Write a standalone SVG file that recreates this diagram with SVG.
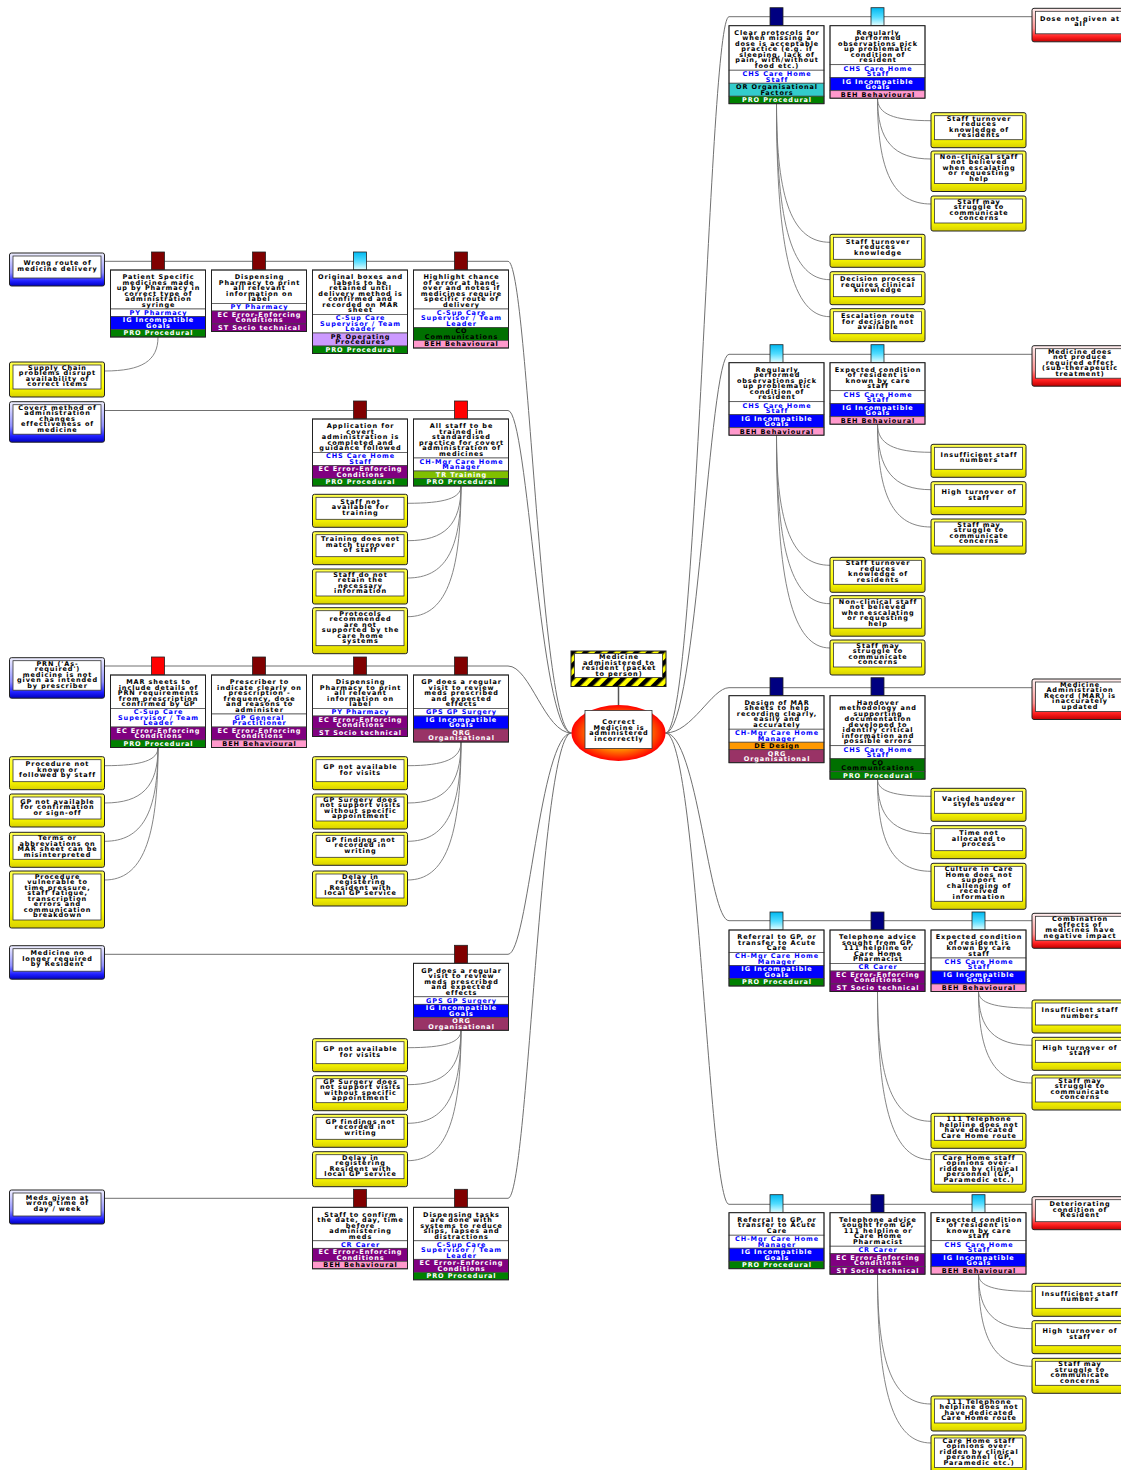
<svg xmlns="http://www.w3.org/2000/svg" width="1121" height="1470" viewBox="0 0 1121 1470">
<defs>
<linearGradient id="gY" x1="0" y1="0" x2="0" y2="1"><stop offset="0" stop-color="#ffff50"/><stop offset="0.7" stop-color="#ffff00"/><stop offset="1" stop-color="#d8d000"/></linearGradient>
<linearGradient id="gB" x1="0" y1="0" x2="0" y2="1"><stop offset="0" stop-color="#f0f0ff"/><stop offset="0.6" stop-color="#9090ff"/><stop offset="0.85" stop-color="#2020ff"/><stop offset="1" stop-color="#0000c0"/></linearGradient>
<linearGradient id="gR" x1="0" y1="0" x2="0" y2="1"><stop offset="0" stop-color="#fff0f0"/><stop offset="0.6" stop-color="#ff9090"/><stop offset="0.85" stop-color="#ff2020"/><stop offset="1" stop-color="#c00000"/></linearGradient>
<linearGradient id="gT" x1="0" y1="0" x2="0" y2="1"><stop offset="0" stop-color="#00b8f0"/><stop offset="0.5" stop-color="#50dcff"/><stop offset="1" stop-color="#e8ffff"/></linearGradient>
<radialGradient id="gE" cx="0.5" cy="0.5" r="0.5"><stop offset="0" stop-color="#ffa000"/><stop offset="0.6" stop-color="#ff8800"/><stop offset="1" stop-color="#ff0000"/></radialGradient>
<pattern id="hz" width="9" height="9" patternUnits="userSpaceOnUse" patternTransform="rotate(45)"><rect width="9" height="9" fill="#ffff00"/><rect width="4.5" height="9" fill="#000"/></pattern>
</defs>
<style>
.ln{fill:none;stroke:#707070;stroke-width:1}
.el{fill:none;stroke:#777;stroke-width:0.9}
.t{font-family:"DejaVu Sans","Liberation Sans",Verdana,sans-serif;font-weight:bold;font-size:6.5px;letter-spacing:0.9px;text-anchor:middle;fill:#000}
.tb{fill:#0000ff}
.tw{fill:#fff}
.s{stroke:#444;stroke-width:0.7}
.d,.r{fill:#fff}
.ig{fill:#0000ff}
.pro{fill:#008000}
.ec,.st{fill:#800080}
.pr{fill:#cc99ff}
.co{fill:#007000}
.beh{fill:#ff99cc}
.tr{fill:#80c000}
.or{fill:#33cccc}
.de{fill:#ff9900}
.org{fill:#993366}
.fr{fill:none;stroke:#222;stroke-width:1}
.tab{stroke:#222;stroke-width:0.8}
.tdr{fill:#800000}.trd{fill:#ff0000}.tnv{fill:#000080}.tlb{fill:url(#gT)}
.ey{fill:url(#gY);stroke:#222;stroke-width:1}
.eb{fill:url(#gB);stroke:#222;stroke-width:1}
.er{fill:url(#gR);stroke:#222;stroke-width:1}
.in{fill:#fff;stroke:#333;stroke-width:0.8}
</style>
<rect width="1121" height="1470" fill="#fff"/>

<g id="connectors">
<path class="ln" d="M104.5,261.3H508C528,261.3 540,733 571.5,733"/>
<path class="ln" d="M104.5,410.5H508C528,410.5 540,733 571.5,733"/>
<path class="ln" d="M104.5,666H508C530,666 545,733 571.5,733"/>
<path class="ln" d="M104.5,954.3H508C528,954.3 540,733 571.5,733"/>
<path class="ln" d="M104.5,1198.3H508C528,1198.3 540,733 571.5,733"/>
<path class="ln" d="M1032,16.7H729C709,16.7 697,733 665.5,733"/>
<path class="ln" d="M1032,354.3H729C709,354.3 697,733 665.5,733"/>
<path class="ln" d="M1032,687.7H729C712,687.7 692,733 665.5,733"/>
<path class="ln" d="M1032,920.7H729C709,920.7 697,733 665.5,733"/>
<path class="ln" d="M1032,1204.3H729C709,1204.3 697,733 665.5,733"/>
<path d="M618.5,686.5V705" fill="none" stroke="#555" stroke-width="1.5"/>
<path class="el" d="M158,337C158,360.8 142,371 104.5,371"/>
<path class="el" d="M461,486C461,498.1 445,503.3 407.5,503.3"/>
<path class="el" d="M461,486C461,524.3 445,540.7 407.5,540.7"/>
<path class="el" d="M461,486C461,550.4 445,578 407.5,578"/>
<path class="el" d="M461,486C461,577.5 445,616.7 407.5,616.7"/>
<path class="el" d="M158,747.5C158,760.2 142,765.7 104.5,765.7"/>
<path class="el" d="M158,747.5C158,786.4 142,803 104.5,803"/>
<path class="el" d="M158,747.5C158,813.2 142,841.3 104.5,841.3"/>
<path class="el" d="M158,747.5C158,840.3 142,880 104.5,880"/>
<path class="el" d="M461,742C461,758.6 445,765.7 407.5,765.7"/>
<path class="el" d="M461,742C461,784.7 445,803 407.5,803"/>
<path class="el" d="M461,742C461,811.5 445,841.3 407.5,841.3"/>
<path class="el" d="M461,742C461,838.6 445,880 407.5,880"/>
<path class="el" d="M461,1030.3C461,1042.5 445,1047.7 407.5,1047.7"/>
<path class="el" d="M461,1030.3C461,1068.4 445,1084.7 407.5,1084.7"/>
<path class="el" d="M461,1030.3C461,1095.4 445,1123.3 407.5,1123.3"/>
<path class="el" d="M461,1030.3C461,1121.6 445,1160.7 407.5,1160.7"/>
<path class="el" d="M776.5,103.7C776.5,200.7 792.5,242.3 830,242.3"/>
<path class="el" d="M776.5,103.7C776.5,226.9 792.5,279.7 830,279.7"/>
<path class="el" d="M776.5,103.7C776.5,252.8 792.5,316.7 830,316.7"/>
<path class="el" d="M877.5,98.2C877.5,114 893.5,120.7 931,120.7"/>
<path class="el" d="M877.5,98.2C877.5,140.8 893.5,159 931,159"/>
<path class="el" d="M877.5,98.2C877.5,172.3 893.5,204 931,204"/>
<path class="el" d="M776.5,435.2C776.5,526.3 792.5,565.3 830,565.3"/>
<path class="el" d="M776.5,435.2C776.5,553.2 792.5,603.7 830,603.7"/>
<path class="el" d="M776.5,435.2C776.5,584.2 792.5,648 830,648"/>
<path class="el" d="M877.5,424.2C877.5,443.9 893.5,452.3 931,452.3"/>
<path class="el" d="M877.5,424.2C877.5,470 893.5,489.7 931,489.7"/>
<path class="el" d="M877.5,424.2C877.5,496.2 893.5,527 931,527"/>
<path class="el" d="M877.5,779.2C877.5,791.2 893.5,796.3 931,796.3"/>
<path class="el" d="M877.5,779.2C877.5,817.4 893.5,833.7 931,833.7"/>
<path class="el" d="M877.5,779.2C877.5,843.7 893.5,871.3 931,871.3"/>
<path class="el" d="M877.5,991.5C877.5,1082.4 893.5,1121.3 931,1121.3"/>
<path class="el" d="M877.5,991.5C877.5,1109.2 893.5,1159.7 931,1159.7"/>
<path class="el" d="M978.5,991.5C978.5,1003 994.5,1008 1032,1008"/>
<path class="el" d="M978.5,991.5C978.5,1029.2 994.5,1045.3 1032,1045.3"/>
<path class="el" d="M978.5,991.5C978.5,1055.6 994.5,1083 1032,1083"/>
<path class="el" d="M877.5,1274.2C877.5,1365.1 893.5,1404 931,1404"/>
<path class="el" d="M877.5,1274.2C877.5,1392.4 893.5,1443 931,1443"/>
<path class="el" d="M978.5,1274.2C978.5,1286.2 994.5,1291.3 1032,1291.3"/>
<path class="el" d="M978.5,1274.2C978.5,1312.4 994.5,1328.7 1032,1328.7"/>
<path class="el" d="M978.5,1274.2C978.5,1338.7 994.5,1366.3 1032,1366.3"/>
</g>

<g id="hazard">
<rect x="571" y="651" width="95" height="35.5" fill="url(#hz)" stroke="#222" stroke-width="1"/>
<rect class="in" x="574.5" y="653.5" width="88" height="24"/>
<text class="t" y="659.4"><tspan x="619">Medicine</tspan><tspan x="619" dy="5.5">administered to</tspan><tspan x="619" dy="5.5">resident (packet</tspan><tspan x="619" dy="5.5">to person)</tspan></text>
</g>

<g id="top-event">
<ellipse cx="618.5" cy="733" rx="47" ry="28" fill="url(#gE)"/>
<rect class="in" x="585" y="710.5" width="67" height="38"/>
<text class="t" y="724"><tspan x="619">Correct</tspan><tspan x="619" dy="5.5">Medicine is</tspan><tspan x="619" dy="5.5">administered</tspan><tspan x="619" dy="5.5">incorrectly</tspan></text>
</g>

<!-- Threats -->
<g id="threat-wrong-route" transform="translate(9.5,253)">
<rect class="eb" width="95" height="33" rx="2"/><rect class="in" x="3.5" y="3" width="88" height="22"/>
<text class="t" y="12.35"><tspan x="48">Wrong route of</tspan><tspan x="48" dy="5.5">medicine delivery</tspan></text>
</g>
<g id="threat-covert" transform="translate(9.5,401.7)">
<rect class="eb" width="95" height="40.5" rx="2"/><rect class="in" x="3.5" y="3" width="88" height="29.5"/>
<text class="t" y="7.85"><tspan x="48">Covert method of</tspan><tspan x="48" dy="5.5">administration</tspan><tspan x="48" dy="5.5">changes</tspan><tspan x="48" dy="5.5">effectiveness of</tspan><tspan x="48" dy="5.5">medicine</tspan></text>
</g>
<g id="threat-prn" transform="translate(9.5,657.7)">
<rect class="eb" width="95" height="40.5" rx="2"/><rect class="in" x="3.5" y="3" width="88" height="29.5"/>
<text class="t" y="7.85"><tspan x="48">PRN ('As-</tspan><tspan x="48" dy="5.5">required')</tspan><tspan x="48" dy="5.5">medicine is not</tspan><tspan x="48" dy="5.5">given as intended</tspan><tspan x="48" dy="5.5">by prescriber</tspan></text>
</g>
<g id="threat-no-longer" transform="translate(9.5,945.7)">
<rect class="eb" width="95" height="33.5" rx="2"/><rect class="in" x="3.5" y="3" width="88" height="22.5"/>
<text class="t" y="9.6"><tspan x="48">Medicine no</tspan><tspan x="48" dy="5.5">longer required</tspan><tspan x="48" dy="5.5">by Resident</tspan></text>
</g>
<g id="threat-wrong-time" transform="translate(9.5,1190)">
<rect class="eb" width="95" height="34" rx="2"/><rect class="in" x="3.5" y="3" width="88" height="23"/>
<text class="t" y="9.6"><tspan x="48">Meds given at</tspan><tspan x="48" dy="5.5">wrong time of</tspan><tspan x="48" dy="5.5">day / week</tspan></text>
</g>

<!-- Consequences -->
<g id="cons-dose-not-given" transform="translate(1032,8.3)">
<rect class="er" width="95" height="33.5" rx="2"/><rect class="in" x="3.5" y="3" width="88" height="22.5"/>
<text class="t" y="12.35"><tspan x="48">Dose not given at</tspan><tspan x="48" dy="5.5">all</tspan></text>
</g>
<g id="cons-sub-therapeutic" transform="translate(1032,345.7)">
<rect class="er" width="95" height="40.5" rx="2"/><rect class="in" x="3.5" y="3" width="88" height="29.5"/>
<text class="t" y="7.85"><tspan x="48">Medicine does</tspan><tspan x="48" dy="5.5">not produce</tspan><tspan x="48" dy="5.5">required effect</tspan><tspan x="48" dy="5.5">(sub-therapeutic</tspan><tspan x="48" dy="5.5">treatment)</tspan></text>
</g>
<g id="cons-mar" transform="translate(1032,679)">
<rect class="er" width="95" height="40.5" rx="2"/><rect class="in" x="3.5" y="3" width="88" height="29.5"/>
<text class="t" y="7.85"><tspan x="48">Medicine</tspan><tspan x="48" dy="5.5">Administration</tspan><tspan x="48" dy="5.5">Record (MAR) is</tspan><tspan x="48" dy="5.5">inaccurately</tspan><tspan x="48" dy="5.5">updated</tspan></text>
</g>
<g id="cons-combination" transform="translate(1032,913.3)">
<rect class="er" width="95" height="35" rx="2"/><rect class="in" x="3.5" y="3" width="88" height="24"/>
<text class="t" y="7.85"><tspan x="48">Combination</tspan><tspan x="48" dy="5.5">effects of</tspan><tspan x="48" dy="5.5">medicines have</tspan><tspan x="48" dy="5.5">negative impact</tspan></text>
</g>
<g id="cons-deteriorating" transform="translate(1032,1196.7)">
<rect class="er" width="95" height="33" rx="2"/><rect class="in" x="3.5" y="3" width="88" height="22"/>
<text class="t" y="9.6"><tspan x="48">Deteriorating</tspan><tspan x="48" dy="5.5">condition of</tspan><tspan x="48" dy="5.5">Resident</tspan></text>
</g>

<!-- Left barriers -->
<g id="bar-l1a" transform="translate(110.5,270)">
<rect class="tab tdr" x="41" y="-18" width="13" height="18"/>
<rect class="s d" width="95" height="39"/><rect class="s r" y="39" width="95" height="7.5"/><rect class="s ig" y="46.5" width="95" height="13"/><rect class="s pro" y="59.5" width="95" height="7.5"/><rect class="fr" width="95" height="67"/>
<text class="t" y="9.25"><tspan x="48">Patient Specific</tspan><tspan x="48" dy="5.5">medicines made</tspan><tspan x="48" dy="5.5">up by Pharmacy in</tspan><tspan x="48" dy="5.5">correct type of</tspan><tspan x="48" dy="5.5">administration</tspan><tspan x="48" dy="5.5">syringe</tspan></text>
<text class="t tb" x="48" y="44.95">PY Pharmacy</text>
<text class="t tw" y="52.45"><tspan x="48">IG Incompatible</tspan><tspan x="48" dy="5.5">Goals</tspan></text>
<text class="t tw" x="48" y="65.45">PRO Procedural</text>
</g>
<g id="bar-l1b" transform="translate(211.5,270)">
<rect class="tab tdr" x="41" y="-18" width="13" height="18"/>
<rect class="s d" width="95" height="33.5"/><rect class="s r" y="33.5" width="95" height="7.5"/><rect class="s ec" y="41" width="95" height="13"/><rect class="s st" y="54" width="95" height="7.5"/><rect class="fr" width="95" height="61.5"/>
<text class="t" y="9.25"><tspan x="48">Dispensing</tspan><tspan x="48" dy="5.5">Pharmacy to print</tspan><tspan x="48" dy="5.5">all relevant</tspan><tspan x="48" dy="5.5">information on</tspan><tspan x="48" dy="5.5">label</tspan></text>
<text class="t tb" x="48" y="39.45">PY Pharmacy</text>
<text class="t tw" y="46.95"><tspan x="48">EC Error-Enforcing</tspan><tspan x="48" dy="5.5">Conditions</tspan></text>
<text class="t tw" x="48" y="59.95">ST Socio technical</text>
</g>
<g id="bar-l1c" transform="translate(312.5,270)">
<rect class="tab tlb" x="41" y="-18" width="13" height="18"/>
<rect class="s d" width="95" height="44.5"/><rect class="s r" y="44.5" width="95" height="18.5"/><rect class="s pr" y="63" width="95" height="13"/><rect class="s pro" y="76" width="95" height="7.5"/><rect class="fr" width="95" height="83.5"/>
<text class="t" y="9.25"><tspan x="48">Original boxes and</tspan><tspan x="48" dy="5.5">labels to be</tspan><tspan x="48" dy="5.5">retained until</tspan><tspan x="48" dy="5.5">delivery method is</tspan><tspan x="48" dy="5.5">confirmed and</tspan><tspan x="48" dy="5.5">recorded on MAR</tspan><tspan x="48" dy="5.5">sheet</tspan></text>
<text class="t tb" y="50.45"><tspan x="48">C-Sup Care</tspan><tspan x="48" dy="5.5">Supervisor / Team</tspan><tspan x="48" dy="5.5">Leader</tspan></text>
<text class="t" y="68.95"><tspan x="48">PR Operating</tspan><tspan x="48" dy="5.5">Procedures</tspan></text>
<text class="t tw" x="48" y="81.95">PRO Procedural</text>
</g>
<g id="bar-l1d" transform="translate(413.5,270)">
<rect class="tab tdr" x="41" y="-18" width="13" height="18"/>
<rect class="s d" width="95" height="39"/><rect class="s r" y="39" width="95" height="18.5"/><rect class="s co" y="57.5" width="95" height="13"/><rect class="s beh" y="70.5" width="95" height="7.5"/><rect class="fr" width="95" height="78"/>
<text class="t" y="9.25"><tspan x="48">Highlight chance</tspan><tspan x="48" dy="5.5">of error at hand-</tspan><tspan x="48" dy="5.5">over and notes if</tspan><tspan x="48" dy="5.5">medicines require</tspan><tspan x="48" dy="5.5">specific route of</tspan><tspan x="48" dy="5.5">delivery</tspan></text>
<text class="t tb" y="44.95"><tspan x="48">C-Sup Care</tspan><tspan x="48" dy="5.5">Supervisor / Team</tspan><tspan x="48" dy="5.5">Leader</tspan></text>
<text class="t" y="63.45"><tspan x="48">CO</tspan><tspan x="48" dy="5.5">Communications</tspan></text>
<text class="t" x="48" y="76.45">BEH Behavioural</text>
</g>
<g id="bar-l2a" transform="translate(312.5,419)">
<rect class="tab tdr" x="41" y="-18" width="13" height="18"/>
<rect class="s d" width="95" height="33.5"/><rect class="s r" y="33.5" width="95" height="13"/><rect class="s ec" y="46.5" width="95" height="13"/><rect class="s pro" y="59.5" width="95" height="7.5"/><rect class="fr" width="95" height="67"/>
<text class="t" y="9.25"><tspan x="48">Application for</tspan><tspan x="48" dy="5.5">covert</tspan><tspan x="48" dy="5.5">administration is</tspan><tspan x="48" dy="5.5">completed and</tspan><tspan x="48" dy="5.5">guidance followed</tspan></text>
<text class="t tb" y="39.45"><tspan x="48">CHS Care Home</tspan><tspan x="48" dy="5.5">Staff</tspan></text>
<text class="t tw" y="52.45"><tspan x="48">EC Error-Enforcing</tspan><tspan x="48" dy="5.5">Conditions</tspan></text>
<text class="t tw" x="48" y="65.45">PRO Procedural</text>
</g>
<g id="bar-l2b" transform="translate(413.5,419)">
<rect class="tab trd" x="41" y="-18" width="13" height="18"/>
<rect class="s d" width="95" height="39"/><rect class="s r" y="39" width="95" height="13"/><rect class="s tr" y="52" width="95" height="7.5"/><rect class="s pro" y="59.5" width="95" height="7.5"/><rect class="fr" width="95" height="67"/>
<text class="t" y="9.25"><tspan x="48">All staff to be</tspan><tspan x="48" dy="5.5">trained in</tspan><tspan x="48" dy="5.5">standardised</tspan><tspan x="48" dy="5.5">practice for covert</tspan><tspan x="48" dy="5.5">administration of</tspan><tspan x="48" dy="5.5">medicines</tspan></text>
<text class="t tb" y="44.95"><tspan x="48">CH-Mgr Care Home</tspan><tspan x="48" dy="5.5">Manager</tspan></text>
<text class="t tw" x="48" y="57.95">TR Training</text>
<text class="t tw" x="48" y="65.45">PRO Procedural</text>
</g>
<g id="bar-l3a" transform="translate(110.5,675)">
<rect class="tab trd" x="41" y="-18" width="13" height="18"/>
<rect class="s d" width="95" height="33.5"/><rect class="s r" y="33.5" width="95" height="18.5"/><rect class="s ec" y="52" width="95" height="13"/><rect class="s pro" y="65" width="95" height="7.5"/><rect class="fr" width="95" height="72.5"/>
<text class="t" y="9.25"><tspan x="48">MAR sheets to</tspan><tspan x="48" dy="5.5">include details of</tspan><tspan x="48" dy="5.5">PRN requirements</tspan><tspan x="48" dy="5.5">from prescription</tspan><tspan x="48" dy="5.5">confirmed by GP</tspan></text>
<text class="t tb" y="39.45"><tspan x="48">C-Sup Care</tspan><tspan x="48" dy="5.5">Supervisor / Team</tspan><tspan x="48" dy="5.5">Leader</tspan></text>
<text class="t tw" y="57.95"><tspan x="48">EC Error-Enforcing</tspan><tspan x="48" dy="5.5">Conditions</tspan></text>
<text class="t tw" x="48" y="70.95">PRO Procedural</text>
</g>
<g id="bar-l3b" transform="translate(211.5,675)">
<rect class="tab tdr" x="41" y="-18" width="13" height="18"/>
<rect class="s d" width="95" height="39"/><rect class="s r" y="39" width="95" height="13"/><rect class="s ec" y="52" width="95" height="13"/><rect class="s beh" y="65" width="95" height="7.5"/><rect class="fr" width="95" height="72.5"/>
<text class="t" y="9.25"><tspan x="48">Prescriber to</tspan><tspan x="48" dy="5.5">indicate clearly on</tspan><tspan x="48" dy="5.5">prescription -</tspan><tspan x="48" dy="5.5">frequency, dose</tspan><tspan x="48" dy="5.5">and reasons to</tspan><tspan x="48" dy="5.5">administer</tspan></text>
<text class="t tb" y="44.95"><tspan x="48">GP General</tspan><tspan x="48" dy="5.5">Practitioner</tspan></text>
<text class="t tw" y="57.95"><tspan x="48">EC Error-Enforcing</tspan><tspan x="48" dy="5.5">Conditions</tspan></text>
<text class="t" x="48" y="70.95">BEH Behavioural</text>
</g>
<g id="bar-l3c" transform="translate(312.5,675)">
<rect class="tab tdr" x="41" y="-18" width="13" height="18"/>
<rect class="s d" width="95" height="33.5"/><rect class="s r" y="33.5" width="95" height="7.5"/><rect class="s ec" y="41" width="95" height="13"/><rect class="s st" y="54" width="95" height="7.5"/><rect class="fr" width="95" height="61.5"/>
<text class="t" y="9.25"><tspan x="48">Dispensing</tspan><tspan x="48" dy="5.5">Pharmacy to print</tspan><tspan x="48" dy="5.5">all relevant</tspan><tspan x="48" dy="5.5">information on</tspan><tspan x="48" dy="5.5">label</tspan></text>
<text class="t tb" x="48" y="39.45">PY Pharmacy</text>
<text class="t tw" y="46.95"><tspan x="48">EC Error-Enforcing</tspan><tspan x="48" dy="5.5">Conditions</tspan></text>
<text class="t tw" x="48" y="59.95">ST Socio technical</text>
</g>
<g id="bar-l3d" transform="translate(413.5,675)">
<rect class="tab tdr" x="41" y="-18" width="13" height="18"/>
<rect class="s d" width="95" height="33.5"/><rect class="s r" y="33.5" width="95" height="7.5"/><rect class="s ig" y="41" width="95" height="13"/><rect class="s org" y="54" width="95" height="13"/><rect class="fr" width="95" height="67"/>
<text class="t" y="9.25"><tspan x="48">GP does a regular</tspan><tspan x="48" dy="5.5">visit to review</tspan><tspan x="48" dy="5.5">meds prescribed</tspan><tspan x="48" dy="5.5">and expected</tspan><tspan x="48" dy="5.5">effects</tspan></text>
<text class="t tb" x="48" y="39.45">GPS GP Surgery</text>
<text class="t tw" y="46.95"><tspan x="48">IG Incompatible</tspan><tspan x="48" dy="5.5">Goals</tspan></text>
<text class="t tw" y="59.95"><tspan x="48">ORG</tspan><tspan x="48" dy="5.5">Organisational</tspan></text>
</g>
<g id="bar-l4" transform="translate(413.5,963.3)">
<rect class="tab tdr" x="41" y="-18" width="13" height="18"/>
<rect class="s d" width="95" height="33.5"/><rect class="s r" y="33.5" width="95" height="7.5"/><rect class="s ig" y="41" width="95" height="13"/><rect class="s org" y="54" width="95" height="13"/><rect class="fr" width="95" height="67"/>
<text class="t" y="9.25"><tspan x="48">GP does a regular</tspan><tspan x="48" dy="5.5">visit to review</tspan><tspan x="48" dy="5.5">meds prescribed</tspan><tspan x="48" dy="5.5">and expected</tspan><tspan x="48" dy="5.5">effects</tspan></text>
<text class="t tb" x="48" y="39.45">GPS GP Surgery</text>
<text class="t tw" y="46.95"><tspan x="48">IG Incompatible</tspan><tspan x="48" dy="5.5">Goals</tspan></text>
<text class="t tw" y="59.95"><tspan x="48">ORG</tspan><tspan x="48" dy="5.5">Organisational</tspan></text>
</g>
<g id="bar-l5a" transform="translate(312.5,1207.3)">
<rect class="tab tdr" x="41" y="-18" width="13" height="18"/>
<rect class="s d" width="95" height="33.5"/><rect class="s r" y="33.5" width="95" height="7.5"/><rect class="s ec" y="41" width="95" height="13"/><rect class="s beh" y="54" width="95" height="7.5"/><rect class="fr" width="95" height="61.5"/>
<text class="t" y="9.25"><tspan x="48">Staff to confirm</tspan><tspan x="48" dy="5.5">the date, day, time</tspan><tspan x="48" dy="5.5">before</tspan><tspan x="48" dy="5.5">administering</tspan><tspan x="48" dy="5.5">meds</tspan></text>
<text class="t tb" x="48" y="39.45">CR Carer</text>
<text class="t tw" y="46.95"><tspan x="48">EC Error-Enforcing</tspan><tspan x="48" dy="5.5">Conditions</tspan></text>
<text class="t" x="48" y="59.95">BEH Behavioural</text>
</g>
<g id="bar-l5b" transform="translate(413.5,1207.3)">
<rect class="tab tdr" x="41" y="-18" width="13" height="18"/>
<rect class="s d" width="95" height="33.5"/><rect class="s r" y="33.5" width="95" height="18.5"/><rect class="s ec" y="52" width="95" height="13"/><rect class="s pro" y="65" width="95" height="7.5"/><rect class="fr" width="95" height="72.5"/>
<text class="t" y="9.25"><tspan x="48">Dispensing tasks</tspan><tspan x="48" dy="5.5">are done with</tspan><tspan x="48" dy="5.5">systems to reduce</tspan><tspan x="48" dy="5.5">slips, lapses and</tspan><tspan x="48" dy="5.5">distractions</tspan></text>
<text class="t tb" y="39.45"><tspan x="48">C-Sup Care</tspan><tspan x="48" dy="5.5">Supervisor / Team</tspan><tspan x="48" dy="5.5">Leader</tspan></text>
<text class="t tw" y="57.95"><tspan x="48">EC Error-Enforcing</tspan><tspan x="48" dy="5.5">Conditions</tspan></text>
<text class="t tw" x="48" y="70.95">PRO Procedural</text>
</g>

<!-- Right barriers -->
<g id="bar-r1a" transform="translate(729,25.7)">
<rect class="tab tnv" x="41" y="-18" width="13" height="18"/>
<rect class="s d" width="95" height="44.5"/><rect class="s r" y="44.5" width="95" height="13"/><rect class="s or" y="57.5" width="95" height="13"/><rect class="s pro" y="70.5" width="95" height="7.5"/><rect class="fr" width="95" height="78"/>
<text class="t" y="9.25"><tspan x="48">Clear protocols for</tspan><tspan x="48" dy="5.5">when missing a</tspan><tspan x="48" dy="5.5">dose is acceptable</tspan><tspan x="48" dy="5.5">practice (e.g. if</tspan><tspan x="48" dy="5.5">sleeping, lack of</tspan><tspan x="48" dy="5.5">pain, with/without</tspan><tspan x="48" dy="5.5">food etc.)</tspan></text>
<text class="t tb" y="50.45"><tspan x="48">CHS Care Home</tspan><tspan x="48" dy="5.5">Staff</tspan></text>
<text class="t" y="63.45"><tspan x="48">OR Organisational</tspan><tspan x="48" dy="5.5">Factors</tspan></text>
<text class="t tw" x="48" y="76.45">PRO Procedural</text>
</g>
<g id="bar-r1b" transform="translate(830,25.7)">
<rect class="tab tlb" x="41" y="-18" width="13" height="18"/>
<rect class="s d" width="95" height="39"/><rect class="s r" y="39" width="95" height="13"/><rect class="s ig" y="52" width="95" height="13"/><rect class="s beh" y="65" width="95" height="7.5"/><rect class="fr" width="95" height="72.5"/>
<text class="t" y="9.25"><tspan x="48">Regularly</tspan><tspan x="48" dy="5.5">performed</tspan><tspan x="48" dy="5.5">observations pick</tspan><tspan x="48" dy="5.5">up problematic</tspan><tspan x="48" dy="5.5">condition of</tspan><tspan x="48" dy="5.5">resident</tspan></text>
<text class="t tb" y="44.95"><tspan x="48">CHS Care Home</tspan><tspan x="48" dy="5.5">Staff</tspan></text>
<text class="t tw" y="57.95"><tspan x="48">IG Incompatible</tspan><tspan x="48" dy="5.5">Goals</tspan></text>
<text class="t" x="48" y="70.95">BEH Behavioural</text>
</g>
<g id="bar-r2a" transform="translate(729,362.7)">
<rect class="tab tlb" x="41" y="-18" width="13" height="18"/>
<rect class="s d" width="95" height="39"/><rect class="s r" y="39" width="95" height="13"/><rect class="s ig" y="52" width="95" height="13"/><rect class="s beh" y="65" width="95" height="7.5"/><rect class="fr" width="95" height="72.5"/>
<text class="t" y="9.25"><tspan x="48">Regularly</tspan><tspan x="48" dy="5.5">performed</tspan><tspan x="48" dy="5.5">observations pick</tspan><tspan x="48" dy="5.5">up problematic</tspan><tspan x="48" dy="5.5">condition of</tspan><tspan x="48" dy="5.5">resident</tspan></text>
<text class="t tb" y="44.95"><tspan x="48">CHS Care Home</tspan><tspan x="48" dy="5.5">Staff</tspan></text>
<text class="t tw" y="57.95"><tspan x="48">IG Incompatible</tspan><tspan x="48" dy="5.5">Goals</tspan></text>
<text class="t" x="48" y="70.95">BEH Behavioural</text>
</g>
<g id="bar-r2b" transform="translate(830,362.7)">
<rect class="tab tlb" x="41" y="-18" width="13" height="18"/>
<rect class="s d" width="95" height="28"/><rect class="s r" y="28" width="95" height="13"/><rect class="s ig" y="41" width="95" height="13"/><rect class="s beh" y="54" width="95" height="7.5"/><rect class="fr" width="95" height="61.5"/>
<text class="t" y="9.25"><tspan x="48">Expected condition</tspan><tspan x="48" dy="5.5">of resident is</tspan><tspan x="48" dy="5.5">known by care</tspan><tspan x="48" dy="5.5">staff</tspan></text>
<text class="t tb" y="33.95"><tspan x="48">CHS Care Home</tspan><tspan x="48" dy="5.5">Staff</tspan></text>
<text class="t tw" y="46.95"><tspan x="48">IG Incompatible</tspan><tspan x="48" dy="5.5">Goals</tspan></text>
<text class="t" x="48" y="59.95">BEH Behavioural</text>
</g>
<g id="bar-r3a" transform="translate(729,695.7)">
<rect class="tab tnv" x="41" y="-18" width="13" height="18"/>
<rect class="s d" width="95" height="33.5"/><rect class="s r" y="33.5" width="95" height="13"/><rect class="s de" y="46.5" width="95" height="7.5"/><rect class="s org" y="54" width="95" height="13"/><rect class="fr" width="95" height="67"/>
<text class="t" y="9.25"><tspan x="48">Design of MAR</tspan><tspan x="48" dy="5.5">sheets to help</tspan><tspan x="48" dy="5.5">recording clearly,</tspan><tspan x="48" dy="5.5">easily and</tspan><tspan x="48" dy="5.5">accurately</tspan></text>
<text class="t tb" y="39.45"><tspan x="48">CH-Mgr Care Home</tspan><tspan x="48" dy="5.5">Manager</tspan></text>
<text class="t" x="48" y="52.45">DE Design</text>
<text class="t tw" y="59.95"><tspan x="48">ORG</tspan><tspan x="48" dy="5.5">Organisational</tspan></text>
</g>
<g id="bar-r3b" transform="translate(830,695.7)">
<rect class="tab tnv" x="41" y="-18" width="13" height="18"/>
<rect class="s d" width="95" height="50"/><rect class="s r" y="50" width="95" height="13"/><rect class="s co" y="63" width="95" height="13"/><rect class="s pro" y="76" width="95" height="7.5"/><rect class="fr" width="95" height="83.5"/>
<text class="t" y="9.25"><tspan x="48">Handover</tspan><tspan x="48" dy="5.5">methodology and</tspan><tspan x="48" dy="5.5">supporting</tspan><tspan x="48" dy="5.5">documentation</tspan><tspan x="48" dy="5.5">developed to</tspan><tspan x="48" dy="5.5">identify critical</tspan><tspan x="48" dy="5.5">information and</tspan><tspan x="48" dy="5.5">possible errors</tspan></text>
<text class="t tb" y="55.95"><tspan x="48">CHS Care Home</tspan><tspan x="48" dy="5.5">Staff</tspan></text>
<text class="t" y="68.95"><tspan x="48">CO</tspan><tspan x="48" dy="5.5">Communications</tspan></text>
<text class="t tw" x="48" y="81.95">PRO Procedural</text>
</g>
<g id="bar-r4a" transform="translate(729,930)">
<rect class="tab tlb" x="41" y="-18" width="13" height="18"/>
<rect class="s d" width="95" height="22.5"/><rect class="s r" y="22.5" width="95" height="13"/><rect class="s ig" y="35.5" width="95" height="13"/><rect class="s pro" y="48.5" width="95" height="7.5"/><rect class="fr" width="95" height="56"/>
<text class="t" y="9.25"><tspan x="48">Referral to GP, or</tspan><tspan x="48" dy="5.5">transfer to Acute</tspan><tspan x="48" dy="5.5">Care</tspan></text>
<text class="t tb" y="28.45"><tspan x="48">CH-Mgr Care Home</tspan><tspan x="48" dy="5.5">Manager</tspan></text>
<text class="t tw" y="41.45"><tspan x="48">IG Incompatible</tspan><tspan x="48" dy="5.5">Goals</tspan></text>
<text class="t tw" x="48" y="54.45">PRO Procedural</text>
</g>
<g id="bar-r4b" transform="translate(830,930)">
<rect class="tab tnv" x="41" y="-18" width="13" height="18"/>
<rect class="s d" width="95" height="33.5"/><rect class="s r" y="33.5" width="95" height="7.5"/><rect class="s ec" y="41" width="95" height="13"/><rect class="s st" y="54" width="95" height="7.5"/><rect class="fr" width="95" height="61.5"/>
<text class="t" y="9.25"><tspan x="48">Telephone advice</tspan><tspan x="48" dy="5.5">sought from GP,</tspan><tspan x="48" dy="5.5">111 helpline or</tspan><tspan x="48" dy="5.5">Care Home</tspan><tspan x="48" dy="5.5">Pharmacist</tspan></text>
<text class="t tb" x="48" y="39.45">CR Carer</text>
<text class="t tw" y="46.95"><tspan x="48">EC Error-Enforcing</tspan><tspan x="48" dy="5.5">Conditions</tspan></text>
<text class="t tw" x="48" y="59.95">ST Socio technical</text>
</g>
<g id="bar-r4c" transform="translate(931,930)">
<rect class="tab tlb" x="41" y="-18" width="13" height="18"/>
<rect class="s d" width="95" height="28"/><rect class="s r" y="28" width="95" height="13"/><rect class="s ig" y="41" width="95" height="13"/><rect class="s beh" y="54" width="95" height="7.5"/><rect class="fr" width="95" height="61.5"/>
<text class="t" y="9.25"><tspan x="48">Expected condition</tspan><tspan x="48" dy="5.5">of resident is</tspan><tspan x="48" dy="5.5">known by care</tspan><tspan x="48" dy="5.5">staff</tspan></text>
<text class="t tb" y="33.95"><tspan x="48">CHS Care Home</tspan><tspan x="48" dy="5.5">Staff</tspan></text>
<text class="t tw" y="46.95"><tspan x="48">IG Incompatible</tspan><tspan x="48" dy="5.5">Goals</tspan></text>
<text class="t" x="48" y="59.95">BEH Behavioural</text>
</g>
<g id="bar-r5a" transform="translate(729,1212.7)">
<rect class="tab tlb" x="41" y="-18" width="13" height="18"/>
<rect class="s d" width="95" height="22.5"/><rect class="s r" y="22.5" width="95" height="13"/><rect class="s ig" y="35.5" width="95" height="13"/><rect class="s pro" y="48.5" width="95" height="7.5"/><rect class="fr" width="95" height="56"/>
<text class="t" y="9.25"><tspan x="48">Referral to GP, or</tspan><tspan x="48" dy="5.5">transfer to Acute</tspan><tspan x="48" dy="5.5">Care</tspan></text>
<text class="t tb" y="28.45"><tspan x="48">CH-Mgr Care Home</tspan><tspan x="48" dy="5.5">Manager</tspan></text>
<text class="t tw" y="41.45"><tspan x="48">IG Incompatible</tspan><tspan x="48" dy="5.5">Goals</tspan></text>
<text class="t tw" x="48" y="54.45">PRO Procedural</text>
</g>
<g id="bar-r5b" transform="translate(830,1212.7)">
<rect class="tab tnv" x="41" y="-18" width="13" height="18"/>
<rect class="s d" width="95" height="33.5"/><rect class="s r" y="33.5" width="95" height="7.5"/><rect class="s ec" y="41" width="95" height="13"/><rect class="s st" y="54" width="95" height="7.5"/><rect class="fr" width="95" height="61.5"/>
<text class="t" y="9.25"><tspan x="48">Telephone advice</tspan><tspan x="48" dy="5.5">sought from GP,</tspan><tspan x="48" dy="5.5">111 helpline or</tspan><tspan x="48" dy="5.5">Care Home</tspan><tspan x="48" dy="5.5">Pharmacist</tspan></text>
<text class="t tb" x="48" y="39.45">CR Carer</text>
<text class="t tw" y="46.95"><tspan x="48">EC Error-Enforcing</tspan><tspan x="48" dy="5.5">Conditions</tspan></text>
<text class="t tw" x="48" y="59.95">ST Socio technical</text>
</g>
<g id="bar-r5c" transform="translate(931,1212.7)">
<rect class="tab tlb" x="41" y="-18" width="13" height="18"/>
<rect class="s d" width="95" height="28"/><rect class="s r" y="28" width="95" height="13"/><rect class="s ig" y="41" width="95" height="13"/><rect class="s beh" y="54" width="95" height="7.5"/><rect class="fr" width="95" height="61.5"/>
<text class="t" y="9.25"><tspan x="48">Expected condition</tspan><tspan x="48" dy="5.5">of resident is</tspan><tspan x="48" dy="5.5">known by care</tspan><tspan x="48" dy="5.5">staff</tspan></text>
<text class="t tb" y="33.95"><tspan x="48">CHS Care Home</tspan><tspan x="48" dy="5.5">Staff</tspan></text>
<text class="t tw" y="46.95"><tspan x="48">IG Incompatible</tspan><tspan x="48" dy="5.5">Goals</tspan></text>
<text class="t" x="48" y="59.95">BEH Behavioural</text>
</g>

<!-- Escalation factors -->
<g id="esc-1" transform="translate(9.5,362)"><rect class="ey" width="95" height="35" rx="2"/><rect class="in" x="3.5" y="3" width="88" height="24"/>
<text class="t" y="7.85"><tspan x="48">Supply Chain</tspan><tspan x="48" dy="5.5">problems disrupt</tspan><tspan x="48" dy="5.5">availability of</tspan><tspan x="48" dy="5.5">correct items</tspan></text></g>
<g id="esc-2" transform="translate(312.5,494.3)"><rect class="ey" width="95" height="33" rx="2"/><rect class="in" x="3.5" y="3" width="88" height="22"/>
<text class="t" y="9.6"><tspan x="48">Staff not</tspan><tspan x="48" dy="5.5">available for</tspan><tspan x="48" dy="5.5">training</tspan></text></g>
<g id="esc-3" transform="translate(312.5,531.7)"><rect class="ey" width="95" height="33" rx="2"/><rect class="in" x="3.5" y="3" width="88" height="22"/>
<text class="t" y="9.6"><tspan x="48">Training does not</tspan><tspan x="48" dy="5.5">match turnover</tspan><tspan x="48" dy="5.5">of staff</tspan></text></g>
<g id="esc-4" transform="translate(312.5,569)"><rect class="ey" width="95" height="35" rx="2"/><rect class="in" x="3.5" y="3" width="88" height="24"/>
<text class="t" y="7.85"><tspan x="48">Staff do not</tspan><tspan x="48" dy="5.5">retain the</tspan><tspan x="48" dy="5.5">necessary</tspan><tspan x="48" dy="5.5">information</tspan></text></g>
<g id="esc-5" transform="translate(312.5,607.7)"><rect class="ey" width="95" height="46" rx="2"/><rect class="in" x="3.5" y="3" width="88" height="35"/>
<text class="t" y="7.85"><tspan x="48">Protocols</tspan><tspan x="48" dy="5.5">recommended</tspan><tspan x="48" dy="5.5">are not</tspan><tspan x="48" dy="5.5">supported by the</tspan><tspan x="48" dy="5.5">care home</tspan><tspan x="48" dy="5.5">systems</tspan></text></g>
<g id="esc-6" transform="translate(9.5,756.7)"><rect class="ey" width="95" height="33" rx="2"/><rect class="in" x="3.5" y="3" width="88" height="22"/>
<text class="t" y="9.6"><tspan x="48">Procedure not</tspan><tspan x="48" dy="5.5">known or</tspan><tspan x="48" dy="5.5">followed by staff</tspan></text></g>
<g id="esc-7" transform="translate(9.5,794)"><rect class="ey" width="95" height="33" rx="2"/><rect class="in" x="3.5" y="3" width="88" height="22"/>
<text class="t" y="9.6"><tspan x="48">GP not available</tspan><tspan x="48" dy="5.5">for confirmation</tspan><tspan x="48" dy="5.5">or sign-off</tspan></text></g>
<g id="esc-8" transform="translate(9.5,832.3)"><rect class="ey" width="95" height="35" rx="2"/><rect class="in" x="3.5" y="3" width="88" height="24"/>
<text class="t" y="7.85"><tspan x="48">Terms or</tspan><tspan x="48" dy="5.5">abbreviations on</tspan><tspan x="48" dy="5.5">MAR sheet can be</tspan><tspan x="48" dy="5.5">misinterpreted</tspan></text></g>
<g id="esc-9" transform="translate(9.5,871)"><rect class="ey" width="95" height="57" rx="2"/><rect class="in" x="3.5" y="3" width="88" height="46"/>
<text class="t" y="7.85"><tspan x="48">Procedure</tspan><tspan x="48" dy="5.5">vulnerable to</tspan><tspan x="48" dy="5.5">time pressure,</tspan><tspan x="48" dy="5.5">staff fatigue,</tspan><tspan x="48" dy="5.5">transcription</tspan><tspan x="48" dy="5.5">errors and</tspan><tspan x="48" dy="5.5">communication</tspan><tspan x="48" dy="5.5">breakdown</tspan></text></g>
<g id="esc-10" transform="translate(312.5,756.7)"><rect class="ey" width="95" height="33" rx="2"/><rect class="in" x="3.5" y="3" width="88" height="22"/>
<text class="t" y="12.35"><tspan x="48">GP not available</tspan><tspan x="48" dy="5.5">for visits</tspan></text></g>
<g id="esc-11" transform="translate(312.5,794)"><rect class="ey" width="95" height="35" rx="2"/><rect class="in" x="3.5" y="3" width="88" height="24"/>
<text class="t" y="7.85"><tspan x="48">GP Surgery does</tspan><tspan x="48" dy="5.5">not support visits</tspan><tspan x="48" dy="5.5">without specific</tspan><tspan x="48" dy="5.5">appointment</tspan></text></g>
<g id="esc-12" transform="translate(312.5,832.3)"><rect class="ey" width="95" height="33" rx="2"/><rect class="in" x="3.5" y="3" width="88" height="22"/>
<text class="t" y="9.6"><tspan x="48">GP findings not</tspan><tspan x="48" dy="5.5">recorded in</tspan><tspan x="48" dy="5.5">writing</tspan></text></g>
<g id="esc-13" transform="translate(312.5,871)"><rect class="ey" width="95" height="35" rx="2"/><rect class="in" x="3.5" y="3" width="88" height="24"/>
<text class="t" y="7.85"><tspan x="48">Delay in</tspan><tspan x="48" dy="5.5">registering</tspan><tspan x="48" dy="5.5">Resident with</tspan><tspan x="48" dy="5.5">local GP service</tspan></text></g>
<g id="esc-14" transform="translate(312.5,1038.7)"><rect class="ey" width="95" height="33" rx="2"/><rect class="in" x="3.5" y="3" width="88" height="22"/>
<text class="t" y="12.35"><tspan x="48">GP not available</tspan><tspan x="48" dy="5.5">for visits</tspan></text></g>
<g id="esc-15" transform="translate(312.5,1075.7)"><rect class="ey" width="95" height="35" rx="2"/><rect class="in" x="3.5" y="3" width="88" height="24"/>
<text class="t" y="7.85"><tspan x="48">GP Surgery does</tspan><tspan x="48" dy="5.5">not support visits</tspan><tspan x="48" dy="5.5">without specific</tspan><tspan x="48" dy="5.5">appointment</tspan></text></g>
<g id="esc-16" transform="translate(312.5,1114.3)"><rect class="ey" width="95" height="33" rx="2"/><rect class="in" x="3.5" y="3" width="88" height="22"/>
<text class="t" y="9.6"><tspan x="48">GP findings not</tspan><tspan x="48" dy="5.5">recorded in</tspan><tspan x="48" dy="5.5">writing</tspan></text></g>
<g id="esc-17" transform="translate(312.5,1151.7)"><rect class="ey" width="95" height="35" rx="2"/><rect class="in" x="3.5" y="3" width="88" height="24"/>
<text class="t" y="7.85"><tspan x="48">Delay in</tspan><tspan x="48" dy="5.5">registering</tspan><tspan x="48" dy="5.5">Resident with</tspan><tspan x="48" dy="5.5">local GP service</tspan></text></g>
<g id="esc-18" transform="translate(830,234.3)"><rect class="ey" width="95" height="33" rx="2"/><rect class="in" x="3.5" y="3" width="88" height="22"/>
<text class="t" y="9.6"><tspan x="48">Staff turnover</tspan><tspan x="48" dy="5.5">reduces</tspan><tspan x="48" dy="5.5">knowledge</tspan></text></g>
<g id="esc-19" transform="translate(830,271.7)"><rect class="ey" width="95" height="33" rx="2"/><rect class="in" x="3.5" y="3" width="88" height="22"/>
<text class="t" y="9.6"><tspan x="48">Decision process</tspan><tspan x="48" dy="5.5">requires clinical</tspan><tspan x="48" dy="5.5">knowledge</tspan></text></g>
<g id="esc-20" transform="translate(830,308.7)"><rect class="ey" width="95" height="33" rx="2"/><rect class="in" x="3.5" y="3" width="88" height="22"/>
<text class="t" y="9.6"><tspan x="48">Escalation route</tspan><tspan x="48" dy="5.5">for decision not</tspan><tspan x="48" dy="5.5">available</tspan></text></g>
<g id="esc-21" transform="translate(931,112.7)"><rect class="ey" width="95" height="35" rx="2"/><rect class="in" x="3.5" y="3" width="88" height="24"/>
<text class="t" y="7.85"><tspan x="48">Staff turnover</tspan><tspan x="48" dy="5.5">reduces</tspan><tspan x="48" dy="5.5">knowledge of</tspan><tspan x="48" dy="5.5">residents</tspan></text></g>
<g id="esc-22" transform="translate(931,151)"><rect class="ey" width="95" height="40.5" rx="2"/><rect class="in" x="3.5" y="3" width="88" height="29.5"/>
<text class="t" y="7.85"><tspan x="48">Non-clinical staff</tspan><tspan x="48" dy="5.5">not believed</tspan><tspan x="48" dy="5.5">when escalating</tspan><tspan x="48" dy="5.5">or requesting</tspan><tspan x="48" dy="5.5">help</tspan></text></g>
<g id="esc-23" transform="translate(931,196)"><rect class="ey" width="95" height="35" rx="2"/><rect class="in" x="3.5" y="3" width="88" height="24"/>
<text class="t" y="7.85"><tspan x="48">Staff may</tspan><tspan x="48" dy="5.5">struggle to</tspan><tspan x="48" dy="5.5">communicate</tspan><tspan x="48" dy="5.5">concerns</tspan></text></g>
<g id="esc-24" transform="translate(830,557.3)"><rect class="ey" width="95" height="35" rx="2"/><rect class="in" x="3.5" y="3" width="88" height="24"/>
<text class="t" y="7.85"><tspan x="48">Staff turnover</tspan><tspan x="48" dy="5.5">reduces</tspan><tspan x="48" dy="5.5">knowledge of</tspan><tspan x="48" dy="5.5">residents</tspan></text></g>
<g id="esc-25" transform="translate(830,595.7)"><rect class="ey" width="95" height="40.5" rx="2"/><rect class="in" x="3.5" y="3" width="88" height="29.5"/>
<text class="t" y="7.85"><tspan x="48">Non-clinical staff</tspan><tspan x="48" dy="5.5">not believed</tspan><tspan x="48" dy="5.5">when escalating</tspan><tspan x="48" dy="5.5">or requesting</tspan><tspan x="48" dy="5.5">help</tspan></text></g>
<g id="esc-26" transform="translate(830,640)"><rect class="ey" width="95" height="35" rx="2"/><rect class="in" x="3.5" y="3" width="88" height="24"/>
<text class="t" y="7.85"><tspan x="48">Staff may</tspan><tspan x="48" dy="5.5">struggle to</tspan><tspan x="48" dy="5.5">communicate</tspan><tspan x="48" dy="5.5">concerns</tspan></text></g>
<g id="esc-27" transform="translate(931,444.3)"><rect class="ey" width="95" height="33" rx="2"/><rect class="in" x="3.5" y="3" width="88" height="22"/>
<text class="t" y="12.35"><tspan x="48">Insufficient staff</tspan><tspan x="48" dy="5.5">numbers</tspan></text></g>
<g id="esc-28" transform="translate(931,481.7)"><rect class="ey" width="95" height="33" rx="2"/><rect class="in" x="3.5" y="3" width="88" height="22"/>
<text class="t" y="12.35"><tspan x="48">High turnover of</tspan><tspan x="48" dy="5.5">staff</tspan></text></g>
<g id="esc-29" transform="translate(931,519)"><rect class="ey" width="95" height="35" rx="2"/><rect class="in" x="3.5" y="3" width="88" height="24"/>
<text class="t" y="7.85"><tspan x="48">Staff may</tspan><tspan x="48" dy="5.5">struggle to</tspan><tspan x="48" dy="5.5">communicate</tspan><tspan x="48" dy="5.5">concerns</tspan></text></g>
<g id="esc-30" transform="translate(931,788.3)"><rect class="ey" width="95" height="33" rx="2"/><rect class="in" x="3.5" y="3" width="88" height="22"/>
<text class="t" y="12.35"><tspan x="48">Varied handover</tspan><tspan x="48" dy="5.5">styles used</tspan></text></g>
<g id="esc-31" transform="translate(931,825.7)"><rect class="ey" width="95" height="33" rx="2"/><rect class="in" x="3.5" y="3" width="88" height="22"/>
<text class="t" y="9.6"><tspan x="48">Time not</tspan><tspan x="48" dy="5.5">allocated to</tspan><tspan x="48" dy="5.5">process</tspan></text></g>
<g id="esc-32" transform="translate(931,863.3)"><rect class="ey" width="95" height="46" rx="2"/><rect class="in" x="3.5" y="3" width="88" height="35"/>
<text class="t" y="7.85"><tspan x="48">Culture in Care</tspan><tspan x="48" dy="5.5">Home does not</tspan><tspan x="48" dy="5.5">support</tspan><tspan x="48" dy="5.5">challenging of</tspan><tspan x="48" dy="5.5">received</tspan><tspan x="48" dy="5.5">information</tspan></text></g>
<g id="esc-33" transform="translate(931,1113.3)"><rect class="ey" width="95" height="35" rx="2"/><rect class="in" x="3.5" y="3" width="88" height="24"/>
<text class="t" y="7.85"><tspan x="48">111 Telephone</tspan><tspan x="48" dy="5.5">helpline does not</tspan><tspan x="48" dy="5.5">have dedicated</tspan><tspan x="48" dy="5.5">Care Home route</tspan></text></g>
<g id="esc-34" transform="translate(931,1151.7)"><rect class="ey" width="95" height="40.5" rx="2"/><rect class="in" x="3.5" y="3" width="88" height="29.5"/>
<text class="t" y="7.85"><tspan x="48">Care Home staff</tspan><tspan x="48" dy="5.5">opinions over-</tspan><tspan x="48" dy="5.5">ridden by clinical</tspan><tspan x="48" dy="5.5">personnel (GP,</tspan><tspan x="48" dy="5.5">Paramedic etc.)</tspan></text></g>
<g id="esc-35" transform="translate(1032,1000)"><rect class="ey" width="95" height="33" rx="2"/><rect class="in" x="3.5" y="3" width="88" height="22"/>
<text class="t" y="12.35"><tspan x="48">Insufficient staff</tspan><tspan x="48" dy="5.5">numbers</tspan></text></g>
<g id="esc-36" transform="translate(1032,1037.3)"><rect class="ey" width="95" height="33" rx="2"/><rect class="in" x="3.5" y="3" width="88" height="22"/>
<text class="t" y="12.35"><tspan x="48">High turnover of</tspan><tspan x="48" dy="5.5">staff</tspan></text></g>
<g id="esc-37" transform="translate(1032,1075)"><rect class="ey" width="95" height="35" rx="2"/><rect class="in" x="3.5" y="3" width="88" height="24"/>
<text class="t" y="7.85"><tspan x="48">Staff may</tspan><tspan x="48" dy="5.5">struggle to</tspan><tspan x="48" dy="5.5">communicate</tspan><tspan x="48" dy="5.5">concerns</tspan></text></g>
<g id="esc-38" transform="translate(931,1396)"><rect class="ey" width="95" height="35" rx="2"/><rect class="in" x="3.5" y="3" width="88" height="24"/>
<text class="t" y="7.85"><tspan x="48">111 Telephone</tspan><tspan x="48" dy="5.5">helpline does not</tspan><tspan x="48" dy="5.5">have dedicated</tspan><tspan x="48" dy="5.5">Care Home route</tspan></text></g>
<g id="esc-39" transform="translate(931,1435)"><rect class="ey" width="95" height="40.5" rx="2"/><rect class="in" x="3.5" y="3" width="88" height="29.5"/>
<text class="t" y="7.85"><tspan x="48">Care Home staff</tspan><tspan x="48" dy="5.5">opinions over-</tspan><tspan x="48" dy="5.5">ridden by clinical</tspan><tspan x="48" dy="5.5">personnel (GP,</tspan><tspan x="48" dy="5.5">Paramedic etc.)</tspan></text></g>
<g id="esc-40" transform="translate(1032,1283.3)"><rect class="ey" width="95" height="33" rx="2"/><rect class="in" x="3.5" y="3" width="88" height="22"/>
<text class="t" y="12.35"><tspan x="48">Insufficient staff</tspan><tspan x="48" dy="5.5">numbers</tspan></text></g>
<g id="esc-41" transform="translate(1032,1320.7)"><rect class="ey" width="95" height="33" rx="2"/><rect class="in" x="3.5" y="3" width="88" height="22"/>
<text class="t" y="12.35"><tspan x="48">High turnover of</tspan><tspan x="48" dy="5.5">staff</tspan></text></g>
<g id="esc-42" transform="translate(1032,1358.3)"><rect class="ey" width="95" height="35" rx="2"/><rect class="in" x="3.5" y="3" width="88" height="24"/>
<text class="t" y="7.85"><tspan x="48">Staff may</tspan><tspan x="48" dy="5.5">struggle to</tspan><tspan x="48" dy="5.5">communicate</tspan><tspan x="48" dy="5.5">concerns</tspan></text></g>
</svg>
